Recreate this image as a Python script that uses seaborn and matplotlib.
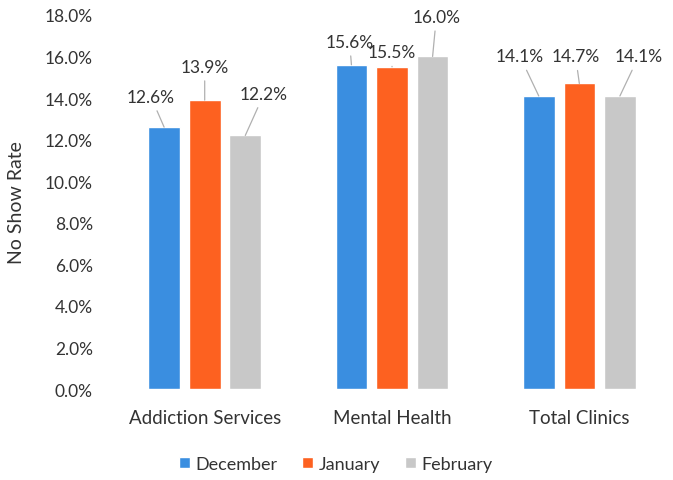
import pandas as pd
import numpy as np
import matplotlib.pyplot as plt
import seaborn as sns
from matplotlib.ticker import FuncFormatter

categories = ["Addiction Services", "Mental Health", "Total Clinics"]
months = ["December", "January", "February"]
december = [12.6, 15.6, 14.1]
january = [13.9, 15.5, 14.7]
february = [12.2, 16.0, 14.1]
yticks = [0, 2, 4, 6, 8, 10, 12, 14, 16, 18]

colors = ["#3a8ee0", "#fd6120", "#c8c8c8"]

df = pd.DataFrame({
    "Category": categories * 3,
    "Month": [m for m in months for _ in categories],
    "Rate": december + january + february,
})

sns.set_theme(style="white")
plt.rcParams['font.family'] = ['Lato', 'DejaVu Sans']

fig = plt.figure(figsize=(6.73, 4.81), dpi=100)
ax = fig.add_axes([0.165, 0.189, 0.835, 0.778])

sns.barplot(data=df, x="Category", y="Rate", hue="Month", palette=colors,
            saturation=1, width=0.65, gap=0.22, ax=ax, legend=True)

ax.set_ylim(0, 18)
ax.set_xlim(-0.5, 2.5)
ax.set_yticks(yticks)
ax.yaxis.set_major_formatter(FuncFormatter(lambda v, p: f"{v:.1f}%"))
ax.tick_params(axis="y", labelsize=12.5, colors="#333333", pad=7)
ax.tick_params(axis="x", labelsize=13.5, colors="#333333", pad=8)
ax.set_xlabel("")
ax.set_ylabel("No Show Rate", fontsize=14, color="#333333", labelpad=14)
sns.despine(ax=ax, left=True, bottom=True)

# data labels with leader lines (label offset from bar top, in data units)
offsets = [
    [(-0.07, 1.45), (0.0, 1.6), (0.10, 2.0)],
    [(-0.01, 1.1), (0.0, 0.7), (0.02, 1.9)],
    [(-0.10, 1.9), (-0.02, 1.3), (0.10, 1.9)],
]
for ci, cont in enumerate(ax.containers):
    for bi, bar in enumerate(cont):
        x = bar.get_x() + bar.get_width() / 2
        h = bar.get_height()
        dx, dy = offsets[bi][ci]
        ax.annotate(f"{h:.1f}%", xy=(x, h), xytext=(x + dx, h + dy),
                    ha="center", va="center", fontsize=12.5, color="#333333",
                    arrowprops=dict(arrowstyle="-", color="#b0b0b0", lw=0.9,
                                    shrinkA=2, shrinkB=0))

leg = ax.legend(loc="upper center", bbox_to_anchor=(0.40, -0.135), ncol=3,
                frameon=False, fontsize=13, handlelength=0.6, handleheight=0.6,
                handletextpad=0.3, columnspacing=1.4)
for t in leg.get_texts():
    t.set_color("#333333")

fig.savefig("out.png", dpi=100)
